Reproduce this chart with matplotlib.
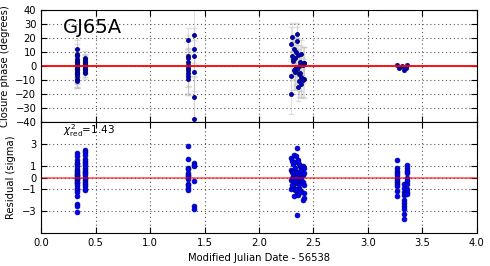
import numpy as np
import matplotlib
matplotlib.use('Agg')
from matplotlib import pyplot as plt

# closure phases (degrees) against MJD - 56538
t_cp = [0.33] * 19 + [0.40] * 12 + [1.35] * 10 + [1.40] * 6 + \
       [2.29, 2.30, 2.31, 2.32, 2.33, 2.34, 2.35, 2.36, 2.37, 2.38, 2.39, 2.40, 2.41,
        2.29, 2.31, 2.33, 2.35, 2.37, 2.39, 2.41, 2.30, 2.34, 2.36, 2.38, 2.40, 2.32,
        2.29, 2.33, 2.37, 2.41, 2.35, 2.39] + \
       [3.27, 3.29, 3.31, 3.33, 3.35, 3.36]
cp = [12, 9, 7, 5, 4, 3, 2, 1, 0, -1, -2, -3, -4, -5, -6, -7, -9, -10, -11,
      6, 5, 4, 3, 2, 1, 0, -1, -2, -3, -4, -5,
      19, 7, 6, 3, 1, -1, -3, -5, -7, -9,
      22, 12, 7, -4, -22, -38,
      16, 21, 4, 12, -2, 10, 23, 8, -6, 3, -13, 1, -9,
      -20, 5, -4, 18, 0, -8, 2, 7, -1, -15, -5, -10, -3,
      -7, 6, -11, 2, -2, 9,
      1, -1, 0, -3, -1, 1]
cp_err = [12, 10, 9, 8, 8, 9, 10, 9, 8, 9, 10, 8, 9, 8, 9, 8, 7, 6, 5,
          5, 4, 4, 5, 4, 5, 4, 5, 4, 5, 4, 4,
          8, 15, 12, 10, 11, 13, 12, 14, 14, 12,
          20, 15, 12, 14, 15, 30,
          12, 10, 14, 10, 12, 11, 8, 12, 14, 12, 10, 13, 14,
          14, 12, 13, 10, 12, 14, 12, 13, 12, 10, 13, 12, 14,
          12, 13, 11, 12, 14, 10,
          1, 1, 1, 1, 1, 1]

# residuals (sigma)
t_res = [0.33] * 25 + [0.40] * 19 + [1.35] * 12 + [1.40] * 6 + \
        [2.29, 2.30, 2.31, 2.32, 2.33, 2.34, 2.35, 2.36, 2.37, 2.38, 2.39, 2.40, 2.41,
         2.29, 2.30, 2.31, 2.32, 2.33, 2.34, 2.35, 2.36, 2.37, 2.38, 2.39, 2.40, 2.41,
         2.29, 2.30, 2.31, 2.32, 2.33, 2.34, 2.35, 2.36, 2.37, 2.38, 2.39, 2.40, 2.41,
         2.29, 2.31, 2.33, 2.35, 2.37, 2.39, 2.41, 2.30, 2.34, 2.36, 2.38, 2.40, 2.32, 2.35, 2.41] + \
        [3.27] * 12 + [3.33] * 10 + [3.36] * 10
res = [2.2, 1.9, 1.6, 1.3, 1.2, 1.0, 0.8, 0.6, 0.5, 0.3, 0.2, 0.1, 0.0, -0.1, -0.2,
       -0.4, -0.5, -0.7, -0.9, -1.1, -1.3, -1.7, -2.4, -2.6, -3.1,
       2.5, 2.3, 2.0, 1.7, 1.5, 1.3, 1.1, 0.9, 0.7, 0.5, 0.4, 0.2, 0.0, -0.2, -0.4,
       -0.6, -0.8, -1.0, -1.1,
       2.8, 1.7, 0.9, 0.8, 0.4, 0.2, 0.1, -0.1, -0.6, -0.7, -0.9, -1.1,
       1.3, 1.1, 1.0, -0.3, -2.6, -2.8,
       1.8, 1.5, 1.2, 2.0, 1.4, 1.9, 2.7, 1.6, 1.2, 1.0, 0.8, 1.0, 0.9,
       0.7, 0.5, 0.3, 0.6, 0.9, 0.4, 0.2, 0.5, 0.1, 0.3, 0.6, 0.2, 0.4,
       -0.2, 0.0, -0.4, -0.1, -0.3, 0.1, -0.5, -0.2, -0.6, -0.3, -0.1, -0.4, -0.7,
       -1.0, -0.8, -1.1, -1.5, -0.9, -1.2, -1.4, -0.7, -1.0, -1.6, -1.3, -2.0, -1.7, -3.4, -1.8,
       1.6, 0.9, 0.6, 0.4, 0.2, 0.0, -0.2, -0.4, -0.6, -0.8, -1.2, -1.7,
       -0.6, -0.9, -1.3, -1.6, -2.0, -2.3, -2.6, -2.8, -3.3, -3.7,
       1.1, 0.9, 0.6, 0.4, 0.0, -0.3, -0.6, -1.0, -1.3, -1.5]

chi2_red = 1.43

fig = plt.figure(figsize=(4.9, 2.66), dpi=100)
ax1 = fig.add_axes([0.084, 0.541, 0.889, 0.421])
ax2 = fig.add_axes([0.084, 0.124, 0.889, 0.417], sharex=ax1)

grid_style = dict(color='0.35', linestyle=(0, (1, 2.5)), lw=0.8)

ax1.errorbar(t_cp, cp, yerr=cp_err, fmt='none', ecolor='0.75', alpha=0.45, capsize=2, lw=0.8)
ax1.plot(t_cp, cp, '.', color='blue', mec='navy', ms=5)
ax1.axhline(0, color='red', lw=1.3)
ax1.set_ylim(-40, 40)
ax1.set_yticks(np.arange(-40, 41, 10))
ax1.set_ylabel('Closure phase (degrees)', fontsize=7.2)
ax1.text(0.2, 24, 'GJ65A', fontsize=14)
ax1.grid(True, **grid_style)
plt.setp(ax1.get_xticklabels(), visible=False)

ax2.plot(t_res, res, 'o', color='blue', mec='navy', ms=3.5, mew=0.5)
ax2.axhline(0, color='red', lw=1.3, alpha=0.6)
ax2.set_ylim(-5, 5)
ax2.set_yticks([-3, -1, 0, 1, 3])
ax2.set_ylabel('Residual (sigma)', fontsize=7.2)
ax2.set_xlabel('Modified Julian Date - 56538', fontsize=7.2)
ax2.text(0.2, 3.9, r'$\chi^2_{\rm red}$=%.2f' % chi2_red, fontsize=7.5)
ax2.grid(True, **grid_style)
ax2.set_xlim(0, 4)
ax2.set_xticks(np.arange(0, 4.01, 0.5))

for ax in (ax1, ax2):
    ax.tick_params(direction='in', top=True, right=True, labelsize=7.2, length=4)

plt.savefig('out.png', dpi=100)
